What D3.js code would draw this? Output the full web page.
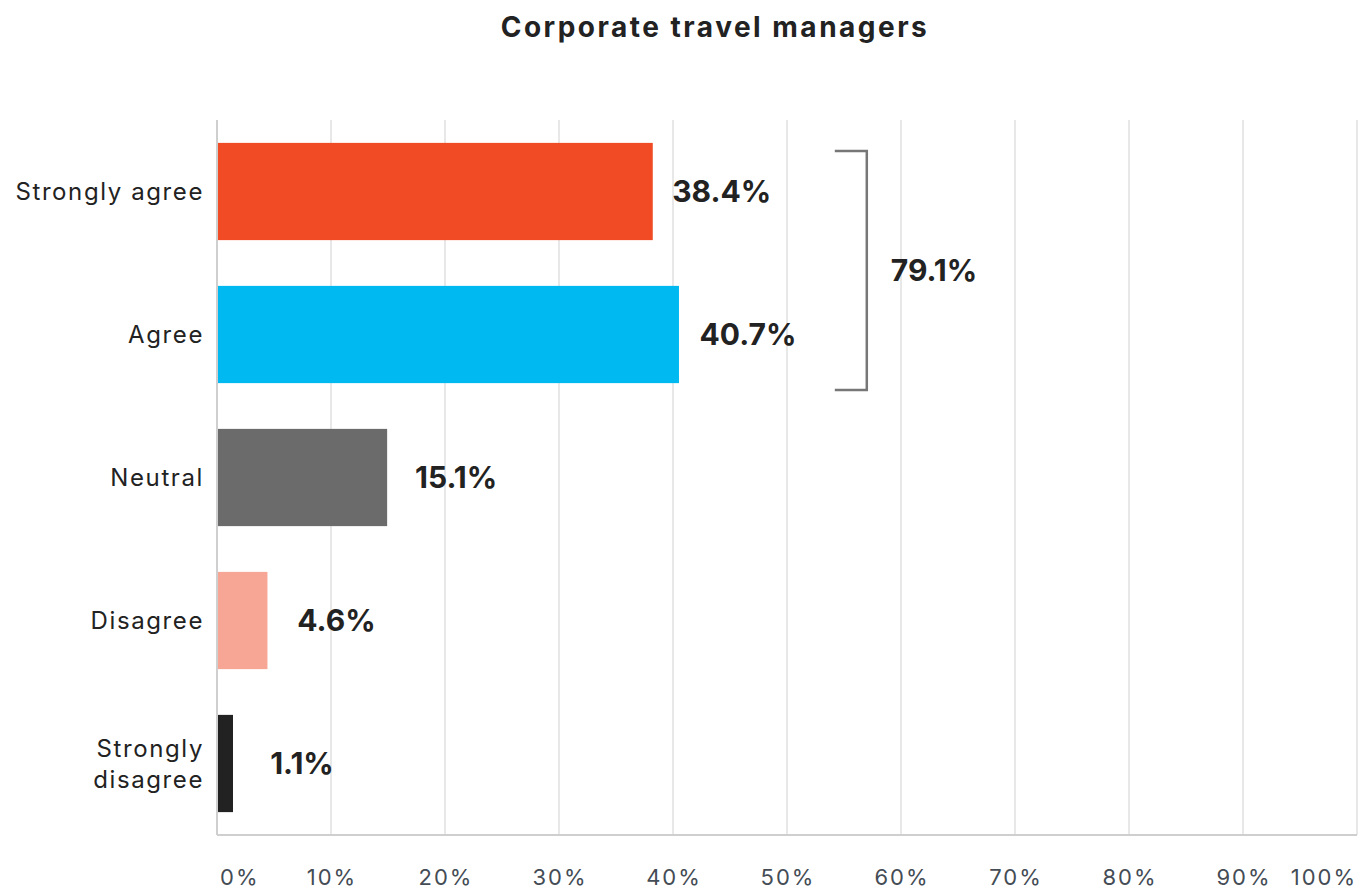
<!DOCTYPE html>
<html>
<head>
<meta charset="utf-8">
<script src="https://cdn.jsdelivr.net/npm/d3@7"></script>
<style>
  body { margin: 0; background: #fff; font-family: Inter, "Open Sans", sans-serif; }
</style>
</head>
<body>
<div id="chart"></div>
<script>
// data
var categories = ["Strongly agree", "Agree", "Neutral", "Disagree", "Strongly disagree"];
var values = [38.4, 40.7, 15.1, 4.6, 1.1];
var colors = ["#F04B24", "#00B9F1", "#6B6B6B", "#F7A695", "#222222"];
var ticks = [0, 10, 20, 30, 40, 50, 60, 70, 80, 90, 100];
var bracketTotal = 79.1;   // strongly agree + agree
var bracketAt = 57;        // where the bracket sits, in % units

var data = categories.map(function(c, i) { return { cat: c, value: values[i], color: colors[i] }; });

var margin = { top: 120, right: 10, bottom: 57, left: 217 },
  width = 1367 - margin.left - margin.right,
  height = 892 - margin.top - margin.bottom;

var svg = d3.select("#chart")
  .append("svg")
  .attr("width", 1367)
  .attr("height", 892);

// title
svg.append("text")
  .attr("x", 715)
  .attr("y", 37)
  .attr("text-anchor", "middle")
  .attr("font-size", "28px")
  .attr("font-weight", "700")
  .attr("letter-spacing", "2.5px")
  .attr("fill", "#222")
  .text("Corporate travel managers");

var g = svg.append("g")
  .attr("transform", "translate(" + margin.left + "," + margin.top + ")");

var x = d3.scaleLinear().domain([0, 100]).range([0, 1140]);

var y = d3.scaleBand()
  .domain(categories)
  .range([0, height])
  .paddingInner(0.32)
  .paddingOuter(0.16);

// gridlines
g.selectAll(".grid")
  .data(ticks.slice(1))
  .enter().append("line")
  .attr("x1", function(d) { return x(d); })
  .attr("x2", function(d) { return x(d); })
  .attr("y1", 0)
  .attr("y2", height)
  .attr("stroke", "#e8e8e8")
  .attr("stroke-width", 2);

// axis lines
g.append("line")
  .attr("x1", 0).attr("x2", 0).attr("y1", 0).attr("y2", height)
  .attr("stroke", "#cfcfcf").attr("stroke-width", 2);
g.append("line")
  .attr("x1", 0).attr("x2", x(100)).attr("y1", height).attr("y2", height)
  .attr("stroke", "#cfcfcf").attr("stroke-width", 2);

// x tick labels
g.selectAll(".tick-label")
  .data(ticks)
  .enter().append("text")
  .attr("x", function(d) { return d === 0 ? x(d) + 3 : (d === 100 ? x(d) : x(d) + 1); })
  .attr("y", height + 50)
  .attr("text-anchor", function(d) { return d === 0 ? "start" : (d === 100 ? "end" : "middle"); })
  .attr("font-size", "22px")
  .attr("letter-spacing", "2px")
  .attr("fill", "#444c55")
  .text(function(d) { return d + "%"; });

// bars
g.selectAll(".bar")
  .data(data)
  .enter().append("rect")
  .attr("x", 1)
  .attr("y", function(d) { return y(d.cat); })
  .attr("width", function(d) { return Math.max(x(d.value) - 3, 15); })
  .attr("height", y.bandwidth())
  .attr("fill", function(d) { return d.color; });

// value labels
g.selectAll(".value")
  .data(data)
  .enter().append("text")
  .attr("x", function(d) { return Math.max(x(d.value) - 3, 15) + 70; })
  .attr("y", function(d) { return y(d.cat) + y.bandwidth() / 2; })
  .attr("dy", "0.36em")
  .attr("text-anchor", "middle")
  .attr("font-size", "30px")
  .attr("font-weight", "700")
  .attr("fill", "#222")
  .text(function(d) { return d.value.toFixed(1) + "%"; });

// category labels (wrap the long one)
g.selectAll(".cat")
  .data(data)
  .enter().append("text")
  .attr("text-anchor", "end")
  .attr("font-size", "24px")
  .attr("letter-spacing", "1.6px")
  .attr("fill", "#222")
  .each(function(d) {
    var t = d3.select(this);
    var cy = y(d.cat) + y.bandwidth() / 2;
    var lines = d.cat === "Strongly disagree" ? ["Strongly", "disagree"] : [d.cat];
    lines.forEach(function(l, i) {
      t.append("tspan")
        .attr("x", -13)
        .attr("y", cy + (i - (lines.length - 1) / 2) * 31)
        .attr("dy", "0.36em")
        .text(l);
    });
  });

// bracket round the first two bars
var bx = x(bracketAt);
var by1 = y(categories[0]) + 8;
var by2 = y(categories[1]) + y.bandwidth() + 7;
g.append("path")
  .attr("d", "M" + (bx - 32) + "," + by1 + "H" + bx + "V" + by2 + "H" + (bx - 32))
  .attr("fill", "none")
  .attr("stroke", "#777")
  .attr("stroke-width", 2.5);

g.append("text")
  .attr("x", bx + 24)
  .attr("y", (by1 + by2) / 2)
  .attr("dy", "0.36em")
  .attr("font-size", "30px")
  .attr("font-weight", "700")
  .attr("fill", "#222")
  .text(bracketTotal.toFixed(1) + "%");
</script>
</body>
</html>
